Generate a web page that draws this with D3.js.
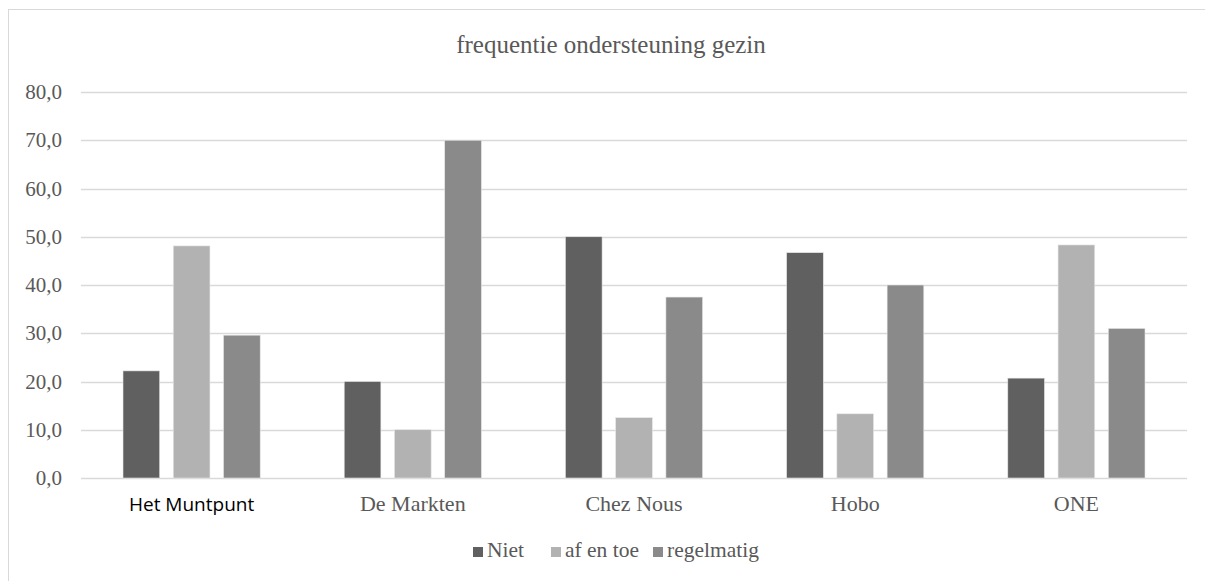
<!DOCTYPE html>
<html>
<head>
<meta charset="utf-8">
<script src="https://cdn.jsdelivr.net/npm/d3@7"></script>
<style>
  body { margin: 0; background: #fff; }
</style>
</head>
<body>
<div id="chart"></div>
<script>
// Data.
const categories = ["Het Muntpunt", "De Markten", "Chez Nous", "Hobo", "ONE"];
const seriesNames = ["Niet", "af en toe", "regelmatig"];
const niet = [22.2, 20.0, 50.0, 46.7, 20.7];
const afEnToe = [48.1, 10.0, 12.5, 13.3, 48.3];
const regelmatig = [29.6, 70.0, 37.5, 40.0, 31.0];
const yTicks = [0, 10, 20, 30, 40, 50, 60, 70, 80];
const colors = ["#606060", "#b2b2b2", "#8a8a8a"];

const seriesValues = [niet, afEnToe, regelmatig];
const serif = "'Liberation Serif', 'DejaVu Serif', serif";
const textColor = "#595959";

const W = 1205, H = 581;
const margin = { top: 92, right: 18, bottom: 103, left: 81 },
      width = W - margin.left - margin.right,
      height = H - margin.top - margin.bottom;

const svg = d3.select("#chart").append("svg")
    .attr("width", W)
    .attr("height", H);

// Chart area border
svg.append("rect")
    .attr("x", 8.5).attr("y", 9.5)
    .attr("width", W).attr("height", H)
    .attr("fill", "none")
    .attr("stroke", "#d9d9d9")
    .attr("stroke-width", 1);

const g = svg.append("g")
    .attr("transform", "translate(" + margin.left + "," + margin.top + ")");

const x0 = d3.scaleBand()
    .domain(categories)
    .range([0, width])
    .paddingInner(0)
    .paddingOuter(0);

const x1 = d3.scaleBand()
    .domain(seriesNames)
    .range([42, x0.bandwidth() - 42])
    .paddingInner(0.27);

const y = d3.scaleLinear()
    .domain([0, 80])
    .range([height, 0]);

// Gridlines
g.append("g")
    .selectAll("line")
    .data(yTicks)
    .join("line")
      .attr("x1", 0)
      .attr("x2", width)
      .attr("y1", d => Math.round(y(d)) + 0.5)
      .attr("y2", d => Math.round(y(d)) + 0.5)
      .attr("stroke", "#d9d9d9")
      .attr("stroke-width", 1.3);

// Y axis labels
const yAxis = d3.axisLeft(y)
    .tickValues(yTicks)
    .tickSize(0)
    .tickPadding(19)
    .tickFormat(d => d3.format(".1f")(d).replace(".", ","));

g.append("g")
    .call(yAxis)
    .call(a => a.select(".domain").remove())
    .attr("font-family", serif)
    .attr("font-size", 21)
    .selectAll("text")
      .attr("fill", textColor);

// Bars
const groupsSel = g.append("g")
    .selectAll("g")
    .data(categories)
    .join("g")
      .attr("transform", d => "translate(" + x0(d) + ",0)");

groupsSel.selectAll("rect")
    .data((c, i) => seriesNames.map((s, j) => ({ s: s, v: seriesValues[j][i], j: j })))
    .join("rect")
      .attr("x", d => x1(d.s))
      .attr("width", x1.bandwidth())
      .attr("y", d => y(d.v))
      .attr("height", d => y(0) - y(d.v))
      .attr("fill", d => colors[d.j])
      .attr("stroke", "#e6e6e6")
      .attr("stroke-width", 0.6);

// Category labels (first one is set in a sans font, as in the original)
g.append("g")
    .selectAll("text")
    .data(categories)
    .join("text")
      .attr("x", d => x0(d) + x0.bandwidth() / 2)
      .attr("y", height + 33)
      .attr("text-anchor", "middle")
      .attr("font-size", d => d === "Het Muntpunt" ? 19 : 22)
      .attr("font-family", d => d === "Het Muntpunt" ? "'Open Sans', 'Liberation Sans', sans-serif" : serif)
      .attr("fill", d => d === "Het Muntpunt" ? "#000" : textColor)
      .text(d => d);

// Title
svg.append("text")
    .attr("x", 611)
    .attr("y", 53)
    .attr("text-anchor", "middle")
    .attr("font-family", serif)
    .attr("font-size", 25)
    .attr("fill", textColor)
    .text("frequentie ondersteuning gezin");

// Legend
const legendX = [473, 551, 653];
const legend = svg.append("g")
    .selectAll("g")
    .data(seriesNames)
    .join("g")
      .attr("transform", (d, i) => "translate(" + legendX[i] + ",545)");

legend.append("rect")
    .attr("width", 10)
    .attr("height", 10)
    .attr("y", 2)
    .attr("fill", (d, i) => colors[i]);

legend.append("text")
    .attr("x", 14)
    .attr("y", 12)
    .attr("font-family", serif)
    .attr("font-size", 21.5)
    .attr("fill", textColor)
    .text(d => d);
</script>
</body>
</html>
